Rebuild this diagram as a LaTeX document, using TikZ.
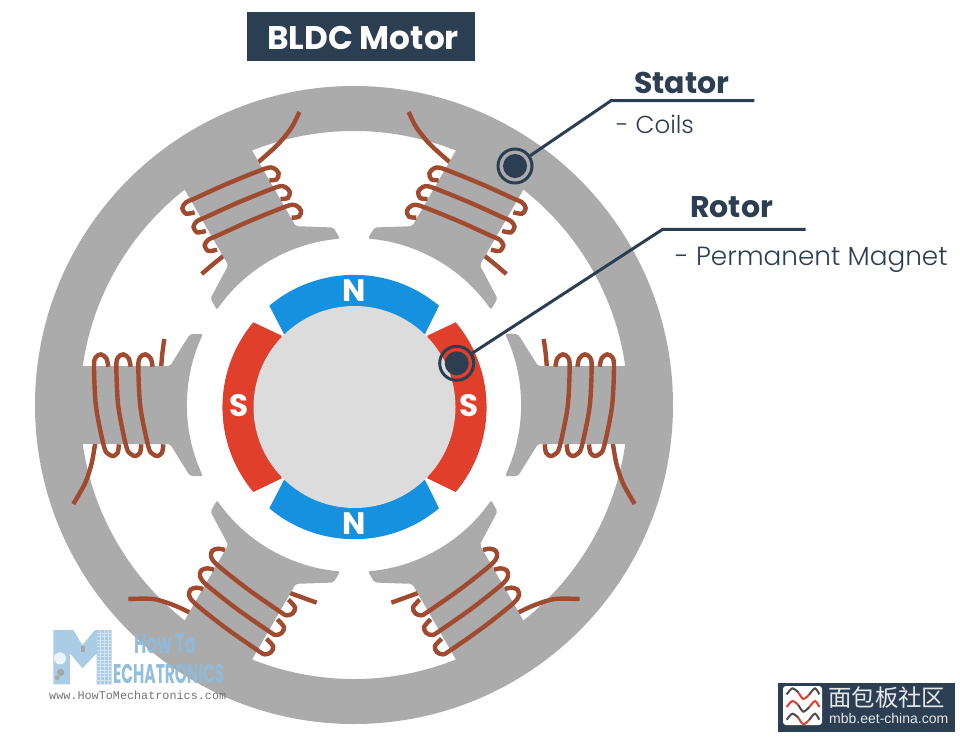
\documentclass[tikz,border=0pt]{standalone}
\usepackage{fontspec}
\setmainfont{Poppins}
\newfontfamily\lightf{Poppins}[UprightFont=* Light]
\newfontfamily\cjkf{Noto Sans CJK SC}
\newfontfamily\monof{Liberation Mono}
\newfontfamily\armf{Liberation Sans}
\definecolor{statorgray}{HTML}{ABABAB}
\definecolor{rotorgray}{HTML}{DCDCDC}
\definecolor{wire}{HTML}{A04A30}
\definecolor{navy}{HTML}{2C3E52}
\definecolor{magblue}{HTML}{1591DF}
\definecolor{magred}{HTML}{DF3F2B}
\definecolor{wmblue}{HTML}{8DBBDB}
\tikzset{
  wirepath/.style={draw=wire,line width=4.4pt},
  leader/.style={draw=navy,line width=3pt},
  marker/.style={circle,draw=navy,line width=3pt,minimum size=34pt,inner sep=0pt},
  markerdot/.style={circle,fill=navy,minimum size=24pt,inner sep=0pt},
  headtext/.style={text=navy,anchor=base west,inner sep=0pt,font=\bfseries\fontsize{30}{32}\selectfont},
  subtext/.style={text=navy,anchor=base west,inner sep=0pt,font=\lightf\fontsize{24.5}{25}\selectfont},
  magtext/.style={text=white,anchor=base,inner sep=0pt,font=\bfseries\fontsize{31}{31}\selectfont},
  curlg/.style={draw=gray!60!black,line width=2pt},
  curlr/.style={draw=magred,line width=2pt},
  wmtext/.style={text=wmblue,opacity=0.95,anchor=base west,inner sep=0pt},
}
\newcommand\backA{%
  \begin{scope}[shift={(160,90)},scale=1/3]
    \draw[wirepath] plot[smooth] coordinates{(418,66)(395,112)(355,162)(300,212)(280,228)};
    \draw[wirepath] plot[smooth] coordinates{(125,552)(160,522)(200,490)};
  \end{scope}}
\newcommand\frontA{%
  \begin{scope}[shift={(160,90)},scale=1/3]
    \foreach \dx/\dy in {0/0,33.5/56,67/112}{
      \draw[wirepath] plot[smooth] coordinates{({328+\dx},{271+\dy})({350+\dx},{268+\dy})({356+\dx},{250+\dy})({342+\dx},{235+\dy})({315+\dx},{236+\dy})({200+\dx},{282+\dy})({105+\dx},{325+\dy})({78+\dx},{337+\dy})({67+\dx},{354+\dy})({78+\dx},{371+\dy})({104+\dx},{367+\dy})};
    }
  \end{scope}}
\newcommand\backB{%
  \begin{scope}[shift={(30,500)},scale=1/3]
    \draw[wirepath] plot[smooth] coordinates{(295,297)(370,297)(430,315)(480,338)(510,355)};
    \draw[wirepath] plot[smooth] coordinates{(860,308)(783,280)(760,270)};
  \end{scope}}
\newcommand\frontB{%
  \begin{scope}[shift={(30,500)},scale=1/3]
    \foreach \dx/\dy in {0/0,-33/59,-65.5/117}{
      \draw[wirepath] plot[smooth] coordinates{({585+\dx},{150+\dy})({565+\dx},{146+\dy})({547+\dx},{152+\dy})({543+\dx},{170+\dy})({562+\dx},{195+\dy})({650+\dx},{265+\dy})({750+\dx},{335+\dy})({770+\dx},{346+\dy})({788+\dx},{340+\dy})({795+\dx},{322+\dy})({775+\dx},{299+\dy})};
    }
  \end{scope}}
\newcommand\backC{%
  \begin{scope}[shift={(30,320)},scale=1/3]
    \draw[wirepath] plot[smooth] coordinates{(403,57)(397,100)(392,160)};
    \draw[wirepath] plot[smooth] coordinates{(130,552)(165,490)(185,430)(197,360)};
  \end{scope}}
\newcommand\frontC{%
  \begin{scope}[shift={(30,320)},scale=1/3]
    \foreach \d in {0,67,133}{
      \draw[wirepath] plot[smooth] coordinates{({235+\d},140)({229+\d},115)({213+\d},103)({197+\d},112)({192+\d},140)({198+\d},260)({222+\d},380)({235+\d},402)({250+\d},408)({263+\d},398)({267+\d},373)};
    }
  \end{scope}}
\begin{document}
\begin{tikzpicture}[x=1pt,y=-1pt]
\useasboundingbox (0,0) rectangle (960,737);
% stator ring
\fill[statorgray,even odd rule] (354,405) circle[radius=319] (354,405) circle[radius=274];
% winding ends behind poles
\backA \backB \backC
\begin{scope}[shift={(708,0)},xscale=-1] \backA \backB \backC \end{scope}
% poles
\foreach \a in {0,60,120,180,240,300}{
  \fill[statorgray,rounded corners=2pt,shift={(354,405)},rotate=\a]
    (285,39) -- (184,39) -- (164,71) -- (151,71) arc[start angle=25.2,end angle=-25.2,radius=167]
    -- (164,-71) -- (184,-39) -- (285,-39) -- cycle;
}
% winding fronts
\frontA \frontB \frontC
\begin{scope}[shift={(708,0)},xscale=-1] \frontA \frontB \frontC \end{scope}
% rotor
\fill[magblue] (269.3,305.7) arc[start angle=230,end angle=310,radius=132] -- (425,334) -- (284,334) -- cycle;
\fill[magblue] (269.3,508.3) arc[start angle=130,end angle=50,radius=132] -- (425,480) -- (284,480) -- cycle;
\fill[magred] (253.3,322.3) arc[start angle=220,end angle=140,radius=132] -- (281.7,478.3) -- (281.7,335.7) -- cycle;
\fill[magred] (455.7,322.3) arc[start angle=-40,end angle=40,radius=132] -- (427.3,478.3) -- (427.3,335.7) -- cycle;
\fill[rotorgray] (354.5,407) circle[radius=101];
\node[magtext] (nTop) at (354,301.7) {N};
\node[magtext] (nBot) at (354,534.3) {N};
\node[magtext] (sLeft) at (239,416.7) {S};
\node[magtext] (sRight) at (469.3,416.7) {S};
% title
\fill[navy] (246.7,12.3) rectangle (475,61);
\node[text=white,anchor=base west,inner sep=0pt,font=\bfseries\fontsize{32.7}{33}\selectfont] (title) at (267,49) {BLDC Motor};
% callouts
\node[marker] (statorMark) at (515,166) {};
\node[markerdot] (statorDot) at (515,166) {};
\node[marker] (rotorMark) at (456.7,363.3) {};
\node[markerdot] (rotorDot) at (456.7,363.3) {};
\coordinate (statorElbow) at (611,100.7);
\coordinate (statorEnd) at (754.3,100.7);
\coordinate (rotorElbow) at (662.7,229.3);
\coordinate (rotorEnd) at (805.7,229.3);
\draw[leader] (statorMark) -- (statorElbow) -- (statorEnd);
\draw[leader] (rotorMark) -- (rotorElbow) -- (rotorEnd);
\node[headtext] (statorText) at (634,93.3) {Stator};
\node[subtext] (coilsText) at (616,133) {- Coils};
\node[headtext] (rotorText) at (690,217.7) {Rotor};
\node[subtext,font=\lightf\fontsize{26.3}{27}\selectfont] (pmText) at (675,265.7) {- Permanent Magnet};
% watermark
\begin{scope}[shift={(45,625)},scale=1/3]
  \fill[wmblue!75!white] (25,15) -- (85,15) -- (112,60) -- (150,15) -- (200,15) -- (200,178) -- (155,178) -- (155,85) -- (112,130) -- (75,85) -- (75,178) -- (25,178) -- cycle;
  \foreach \yy in {25,35,...,170}{\draw[white!60!wmblue,line width=0.5pt] (155,\yy) -- (200,\yy);}
  \draw[white!60!wmblue,line width=0.5pt] (165,15) -- (165,178) (178,15) -- (178,178) (190,15) -- (190,178);
  \fill[white!85!wmblue] (45,100) circle[radius=18];
  \fill[gray!70] (47,142) circle[radius=11];
  \fill[gray!70] (37,158) circle[radius=7];
  \fill[gray!70] (107,62) rectangle (120,82);
\end{scope}
\node[wmtext,xscale=0.6,font=\bfseries\fontsize{28}{28}\selectfont] (howTo) at (134,653) {How To};
\node[wmtext,xscale=0.57,font=\bfseries\fontsize{27}{27}\selectfont] (mech) at (113,683) {ECHATRONICS};
\node[text=gray!90!black,anchor=base west,inner sep=0pt,font=\monof\fontsize{11.8}{12}\selectfont] (wmUrl) at (49,699) {www.HowToMechatronics.com};
% badge
\fill[navy] (778,683) rectangle (955,732);
\fill[white,rounded corners=3pt] (783,686) rectangle (822,725);
\begin{scope}[shift={(770,675)},scale=1/3]
  \foreach \dy/\ca/\cb in {0/curlg/curlr,38/curlr/curlg,76/curlg/curlr}{
    \draw[\ca] plot[smooth] coordinates{(50,{58+\dy})(67,{40+\dy})(85,{52+\dy})};
    \draw[\cb] plot[smooth] coordinates{(85,{52+\dy})(100,{72+\dy})(118,{58+\dy})};
    \draw[\ca] plot[smooth] coordinates{(118,{58+\dy})(135,{40+\dy})(148,{58+\dy})};
  }
\end{scope}
\node[text=white!88!navy,anchor=base west,inner sep=0pt,font=\cjkf\fontsize{23.4}{24}\selectfont] (badgeCn) at (828,706) {面包板社区};
\node[text=white!88!navy,anchor=base west,inner sep=0pt,font=\armf\fontsize{14}{15}\selectfont] (badgeUrl) at (829,723) {mbb.eet-china.com};
\end{tikzpicture}
\end{document}
